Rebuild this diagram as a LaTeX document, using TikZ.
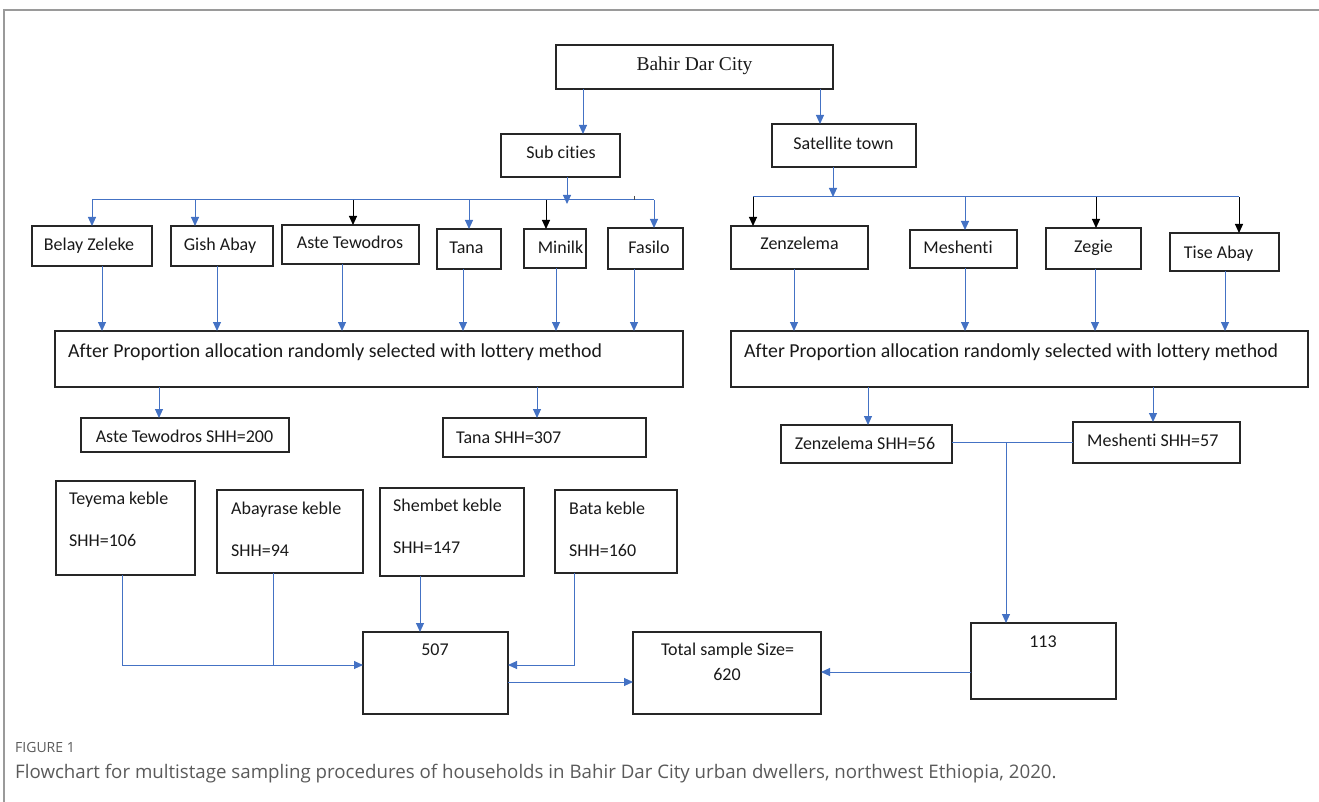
\documentclass[tikz,border=0pt]{standalone}
\usepackage{fontspec}
\setmainfont{Carlito}[Ligatures=NoCommon]
\newfontfamily\serifface{Liberation Serif}
\newfontfamily\capface{Open Sans}
\usetikzlibrary{arrows.meta}
\definecolor{lineblue}{HTML}{4472C4}
\definecolor{capgray}{HTML}{5A5A5A}
\definecolor{framegray}{HTML}{9A9A9A}
\newcommand\mkbox[5]{\node[box,minimum width={(#4-#2)*1pt},minimum height={(#5-#3)*1pt}] (#1) at ({(#2+#4)/2},{(#3+#5)/2}) {};}
\begin{document}
\begin{tikzpicture}[x=1pt,y=-1pt,
  box/.style={draw=black!85,line width=1.4pt,inner sep=0pt,outer sep=0pt},
  txt/.style={inner sep=0pt,text height=11.5pt,text depth=0pt,font=\fontsize{18}{21}\selectfont,text=black!90},
  tl/.style={txt,anchor=west},
  big/.style={font=\fontsize{19.8}{23}\selectfont,text height=12.7pt},
  arr/.style={-{Triangle[length=9pt,width=8pt]}},
  blu/.style={draw=lineblue,line width=1pt,arr},
  blk/.style={draw=black,line width=1pt,arr},
  bln/.style={draw=lineblue,line width=1pt},
  capt/.style={inner sep=0pt,anchor=west,text=capgray,text depth=0pt}
  ]
\useasboundingbox (0,0) rectangle (1319,802);
% frame
\draw[framegray,line width=1.5pt] (4,802) -- (4,10) -- (1319,10);

% boxes
\mkbox{city}{556}{45}{833}{89}
\mkbox{sub}{501}{134}{620}{177}
\mkbox{sat}{772}{124}{916}{167}
\mkbox{belay}{32}{226}{152}{266}
\mkbox{gish}{171}{226}{273}{266}
\mkbox{aste}{282}{225}{419}{264}
\mkbox{tana}{437}{229}{501}{269}
\mkbox{minilk}{524}{229}{586}{268}
\mkbox{fasilo}{608}{228}{683}{269}
\mkbox{zenz}{731}{226}{868}{269}
\mkbox{mesh}{910}{230}{1017}{268}
\mkbox{zegie}{1046}{228}{1141}{269}
\mkbox{tise}{1170}{233}{1279}{271}
\mkbox{allocL}{55}{331}{683}{387}
\mkbox{allocR}{731}{331}{1308}{387}
\mkbox{asteS}{81}{418}{289}{452}
\mkbox{tanaS}{443}{418}{646}{457}
\mkbox{teyema}{56}{481}{195}{575}
\mkbox{abay}{217}{490}{363}{573}
\mkbox{shembet}{380}{488}{524}{576}
\mkbox{bata}{555}{490}{677}{573}
\mkbox{zenzS}{781}{425}{952}{463}
\mkbox{meshS}{1073}{422}{1240}{463}
\mkbox{n507}{363}{632}{508}{714}
\mkbox{total}{633}{632}{821}{714}
\mkbox{n113}{971}{623}{1116}{699}

% texts
\node[txt,font=\serifface\fontsize{19.5}{22}\selectfont,text height=12.9pt] (t-city) at (694.5,64) {Bahir Dar City};
\node[txt] (t-sub) at (561,153) {Sub cities};
\node[txt] (t-sat) at (843.5,143.5) {Satellite town};
\node[txt] (t-belay) at (89,245) {Belay Zeleke};
\node[txt] (t-gish) at (220,245) {Gish Abay};
\node[txt] (t-aste) at (350,243) {Aste Tewodros};
\node[txt] (t-tana) at (466.5,248) {Tana};
\node[txt] (t-minilk) at (560.5,248) {Minilk};
\node[txt] (t-fasilo) at (649,247.5) {Fasilo};
\node[txt] (t-zenz) at (799.5,243.5) {Zenzelema};
\node[txt] (t-mesh) at (958,248) {Meshenti};
\node[txt] (t-zegie) at (1093.5,247) {Zegie};
\node[txt] (t-tise) at (1218.5,253) {Tise Abay};
\node[tl,big] (t-allocL) at (68,351) {After Proportion allocation randomly selected with lottery method};
\node[tl,big] (t-allocR) at (744,351) {After Proportion allocation randomly selected with lottery method};
\node[txt] (t-asteS) at (184.5,436.5) {Aste Tewodros SHH=200};
\node[tl] (t-tanaS) at (456,438) {Tana SHH=307};
\node[tl] (t-teyema1) at (69,499) {Teyema keble};
\node[tl] (t-teyema2) at (69,541) {SHH=106};
\node[tl] (t-abay1) at (231,508.5) {Abayrase keble};
\node[tl] (t-abay2) at (231,551) {SHH=94};
\node[tl] (t-shembet1) at (393,506) {Shembet keble};
\node[tl] (t-shembet2) at (393,548) {SHH=147};
\node[tl] (t-bata1) at (569,508.5) {Bata keble};
\node[tl] (t-bata2) at (569,551) {SHH=160};
\node[txt] (t-zenzS) at (865,443.5) {Zenzelema SHH=56};
\node[tl] (t-meshS) at (1087,440.5) {Meshenti SHH=57};
\node[txt] (t-507) at (435,649.5) {507};
\node[txt] (t-total1) at (727.5,650) {Total sample Size=};
\node[txt] (t-total2) at (727,675) {620};
\node[txt] (t-113) at (1043,642) {113};

% column / row helpers
\foreach \x in {92,102,122,159,195,217,273,342,353,420,463,469,537,546,556,567,574,583,634,654,753,794,820,833,868,965,1006,1095,1096,1153,1225,1239}
  \coordinate (k\x) at (\x,0);
\coordinate (rowL) at (0,200);
\coordinate (rowR) at (0,197);
\coordinate (row442) at (0,442);
\coordinate (row665) at (0,665);
\coordinate (row672) at (0,672);
\coordinate (row682) at (0,682);

% top level
\draw[blu] (city.south -| k583) -- (sub.north -| k583);
\draw[blu] (city.south -| k820) -- (sat.north -| k820);

% sub cities fan
\draw[bln] (rowL -| k92) -- (rowL -| k654);
\draw[blu] (sub.south -| k567) -- ([yshift=-4pt]rowL -| k567);
\draw[black!70,line width=0.6pt] ([yshift=4pt]rowL -| k634) -- (rowL -| k634);
\draw[blu] (rowL -| k92) -- (belay.north -| k92);
\draw[blu] (rowL -| k195) -- (gish.north -| k195);
\draw[blk] (rowL -| k353) -- (aste.north -| k353);
\draw[blu] (rowL -| k469) -- (tana.north -| k469);
\draw[blk] (rowL -| k546) -- (minilk.north -| k546);
\draw[blu] (rowL -| k654) -- (fasilo.north -| k654);

% satellite fan
\draw[bln] (rowR -| k753) -- (rowR -| k1239);
\draw[blu] (sat.south -| k833) -- (rowR -| k833);
\draw[blk] (rowR -| k753) -- (zenz.north -| k753);
\draw[blu] (rowR -| k965) -- (mesh.north -| k965);
\draw[blk] (rowR -| k1096) -- (zegie.north -| k1096);
\draw[blk] (rowR -| k1239) -- (tise.north -| k1239);

% to allocation boxes
\draw[blu] (belay.south -| k102) -- (allocL.north -| k102);
\draw[blu] (gish.south -| k217) -- (allocL.north -| k217);
\draw[blu] (aste.south -| k342) -- (allocL.north -| k342);
\draw[blu] (tana.south -| k463) -- (allocL.north -| k463);
\draw[blu] (minilk.south -| k556) -- (allocL.north -| k556);
\draw[blu] (fasilo.south -| k634) -- (allocL.north -| k634);
\draw[blu] (zenz.south -| k794) -- (allocR.north -| k794);
\draw[blu] (mesh.south -| k965) -- (allocR.north -| k965);
\draw[blu] (zegie.south -| k1095) -- (allocR.north -| k1095);
\draw[blu] (tise.south -| k1225) -- (allocR.north -| k1225);

% allocation results
\draw[blu] (allocL.south -| k159) -- (asteS.north -| k159);
\draw[blu] (allocL.south -| k537) -- (tanaS.north -| k537);
\draw[blu] (allocR.south -| k868) -- (zenzS.north -| k868);
\draw[blu] (allocR.south -| k1153) -- (meshS.north -| k1153);

% satellite totals
\draw[bln] (zenzS.east |- row442) -- (meshS.west |- row442);
\draw[blu] (row442 -| k1006) -- (n113.north -| k1006);

% kebeles to 507
\draw[blu] (teyema.south -| k122) |- (n507.west |- row665);
\draw[bln] (abay.south -| k273) -- (row665 -| k273);
\draw[blu] (shembet.south -| k420) -- (n507.north -| k420);
\draw[blu] (bata.south -| k574) |- (n507.east |- row665);

% totals
\draw[blu] (n507.east |- row682) -- (total.west |- row682);
\draw[blu] (n113.west |- row672) -- (total.east |- row672);

% caption
\node[capt,font=\capface\fontsize{14}{16}\selectfont,text height=10pt] (figlabel) at (15,747) {FIGURE 1};
\node[capt,font=\capface\fontsize{18.7}{21}\selectfont,text height=13.3pt] (caption) at (15,772) {Flowchart for multistage sampling procedures of households in Bahir Dar City urban dwellers, northwest Ethiopia, 2020.};
\end{tikzpicture}
\end{document}
